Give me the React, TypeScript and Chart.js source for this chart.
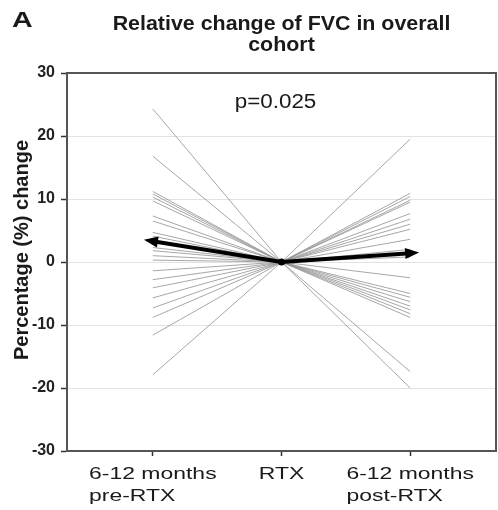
import React, { useEffect, useRef } from 'react';
import { Chart, registerables } from 'chart.js';

Chart.register(...registerables);

// ---- data ----
const categories: string[][] = [['6-12 months', 'pre-RTX'], ['RTX'], ['6-12 months', 'post-RTX']];
const preRtxChange = [24.3, 16.8, 11.2, 10.8, 10.3, 9.7, 7.3, 6.5, 4.7, 4.1, 2.3, 1.8, 1.0, 0.3, -1.4, -2.8, -4.1, -5.7, -7.3, -8.8, -11.6, -17.9];
const rtxChange = 0;
const postRtxChange = [19.5, 10.9, 10.4, 9.8, 9.5, 7.7, 6.8, 6.0, 5.2, 3.6, 2.0, 0.8, -2.5, -5.0, -5.6, -6.3, -7.0, -7.6, -8.2, -8.8, -17.4, -20.0];
const meanChange = [3.3, 0, 1.4];
const yMin = -30;
const yMax = 30;
const yStep = 10;
const titleLines = ['Relative change of FVC in overall', 'cohort'];
const panelLabel = 'A';
const pValueText = 'p=0.025';
const yAxisTitle = 'Percentage (%) change';

const SANS = "'Liberation Sans', Arial, Helvetica, sans-serif";

function drawText(
  ctx: CanvasRenderingContext2D,
  text: string,
  x: number,
  y: number,
  font: string,
  align: CanvasTextAlign,
  sx: number
) {
  ctx.save();
  ctx.font = font;
  ctx.fillStyle = '#1a1a1a';
  ctx.textAlign = align;
  ctx.textBaseline = 'alphabetic';
  ctx.translate(x, y);
  ctx.scale(sx, 1);
  ctx.fillText(text, 0, 0);
  ctx.restore();
}

const decorPlugin = {
  id: 'decor',
  beforeDatasetsDraw(chart: any) {
    const { ctx, chartArea } = chart;
    ctx.save();
    ctx.strokeStyle = '#555';
    ctx.lineWidth = 2;
    ctx.strokeRect(chartArea.left, chartArea.top, chartArea.right - chartArea.left, chartArea.bottom - chartArea.top);
    ctx.restore();
  },
  afterDatasetsDraw(chart: any) {
    const { ctx } = chart;
    const meta = chart.getDatasetMeta(0);
    const pts = meta.data;
    const c = pts[1];
    [pts[0], pts[2]].forEach((p: any) => {
      const dx = p.x - c.x;
      const dy = p.y - c.y;
      const len = Math.hypot(dx, dy);
      const ux = dx / len;
      const uy = dy / len;
      const tipX = p.x + ux * 9;
      const tipY = p.y + uy * 9;
      const bx = tipX - ux * 14;
      const by = tipY - uy * 14;
      const hw = 5.5;
      ctx.save();
      ctx.fillStyle = '#000';
      ctx.beginPath();
      ctx.moveTo(tipX, tipY);
      ctx.lineTo(bx - uy * hw, by + ux * hw);
      ctx.lineTo(bx + uy * hw, by - ux * hw);
      ctx.closePath();
      ctx.fill();
      ctx.restore();
    });
    ctx.save();
    ctx.fillStyle = '#000';
    ctx.beginPath();
    ctx.arc(c.x, c.y, 3.5, 0, Math.PI * 2);
    ctx.fill();
    ctx.restore();
  },
  afterDraw(chart: any) {
    const { ctx, chartArea, scales } = chart;
    drawText(ctx, panelLabel, 12, 27, `bold 22px ${SANS}`, 'left', 1.3);
    const cx = (chartArea.left + chartArea.right) / 2;
    drawText(ctx, titleLines[0], cx, 30, `bold 20px ${SANS}`, 'center', 1.07);
    drawText(ctx, titleLines[1], cx, 51, `bold 20px ${SANS}`, 'center', 1.07);
    drawText(ctx, pValueText, scales.x.getPixelForValue(1) - 6, 108, `20px ${SANS}`, 'center', 1.12);
    ctx.save();
    ctx.font = `bold 20px ${SANS}`;
    ctx.fillStyle = '#1a1a1a';
    ctx.textAlign = 'center';
    ctx.textBaseline = 'alphabetic';
    ctx.translate(28, 250);
    ctx.rotate(-Math.PI / 2);
    ctx.fillText(yAxisTitle, 0, 0);
    ctx.restore();
    const sx = 1.35;
    const font = `17px ${SANS}`;
    ctx.save();
    ctx.font = font;
    categories.forEach((lines, i) => {
      const px = scales.x.getPixelForValue(i);
      const w = Math.max(...lines.map((l) => ctx.measureText(l).width)) * sx;
      const left = px - w / 2;
      lines.forEach((l, j) => {
        drawText(ctx, l, left, 479 + j * 22, font, 'left', sx);
      });
    });
    ctx.restore();
  },
};

export default function App() {
  const ref = useRef<HTMLCanvasElement>(null);
  useEffect(() => {
    if (!ref.current) return;
    const patientSets = preRtxChange.map((pre, i) => ({
      data: [
        { x: 0, y: pre },
        { x: 1, y: rtxChange },
        { x: 2, y: postRtxChange[i] },
      ],
      borderColor: 'rgba(150,150,150,0.85)',
      borderWidth: 1,
      pointRadius: 0,
      order: 1,
    }));
    const chart = new Chart(ref.current, {
      type: 'line',
      data: {
        datasets: [
          {
            data: meanChange.map((v, i) => ({ x: i, y: v })),
            borderColor: '#000',
            borderWidth: 4,
            pointRadius: 0,
            order: 0,
          },
          ...patientSets,
        ] as any,
      },
      options: {
        animation: false,
        responsive: false,
        layout: { padding: { top: 73, right: 2, left: 0, bottom: 0 } },
        plugins: { legend: { display: false }, tooltip: { enabled: false }, title: { display: false } },
        scales: {
          x: {
            type: 'linear',
            min: -0.667,
            max: 2.667,
            afterBuildTicks: (scale: any) => {
              scale.ticks = categories.map((_, i) => ({ value: i }));
            },
            afterFit: (scale: any) => {
              scale.height = 59;
            },
            ticks: { display: false },
            grid: { drawOnChartArea: false, drawTicks: true, tickLength: 5, tickColor: '#333', tickWidth: 1.5 },
            border: { display: true, color: '#222', width: 2 },
          },
          y: {
            min: yMin,
            max: yMax,
            afterFit: (scale: any) => {
              scale.width = 67;
            },
            ticks: {
              stepSize: yStep,
              padding: 6,
              color: '#222',
              font: { family: "'Liberation Sans Narrow', 'Liberation Sans', Arial, sans-serif", size: 16, weight: 'bold' },
            },
            grid: { color: '#e2e2e2', lineWidth: 1, tickLength: 6, tickColor: '#333', tickWidth: 1.5 },
            border: { display: true, color: '#555', width: 2 },
          },
        },
      } as any,
      plugins: [decorPlugin],
    });
    return () => chart.destroy();
  }, []);
  return (
    <div style={{ position: 'absolute', left: 0, top: 0, width: 498, height: 510, background: '#fff' }}>
      <canvas ref={ref} width={498} height={510} style={{ width: 498, height: 510 }} />
    </div>
  );
}
